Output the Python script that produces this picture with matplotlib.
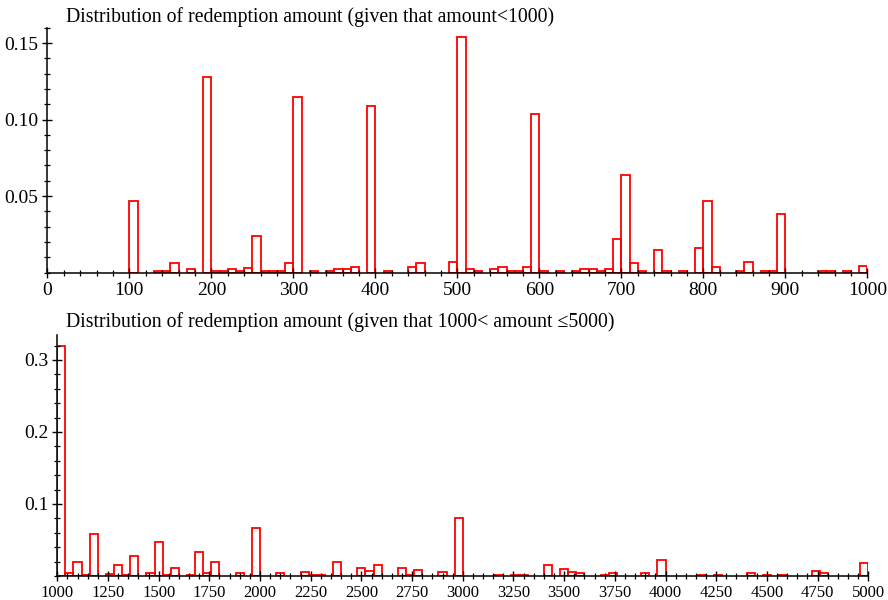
import numpy as np
import matplotlib
matplotlib.use("Agg")
import matplotlib.pyplot as plt
from matplotlib.ticker import MultipleLocator, FixedLocator

plt.rcParams['font.family'] = ['Liberation Serif', 'DejaVu Serif']

# amounts < 1000, bins of width 10 (bin start, relative frequency)
small_start = [100, 130, 140, 150, 170, 190, 200, 210, 220, 230, 240, 250, 260, 270,
               280, 290, 300, 320, 340, 350, 360, 370, 390, 410, 440, 450, 490, 500,
               510, 520, 540, 550, 560, 570, 580, 590, 600, 620, 640, 650, 660, 670,
               680, 690, 700, 710, 720, 740, 750, 770, 790, 800, 810, 840, 850, 870,
               880, 890, 940, 950, 970, 990]
small_freq = [0.047, 0.0012, 0.0012, 0.006, 0.0025, 0.128, 0.0012, 0.0012, 0.0026,
              0.0012, 0.0028, 0.024, 0.0012, 0.0012, 0.0012, 0.006, 0.115, 0.0012,
              0.0012, 0.0026, 0.0026, 0.0035, 0.109, 0.0012, 0.0033, 0.006, 0.007,
              0.154, 0.0026, 0.0012, 0.0022, 0.0035, 0.0012, 0.0012, 0.0035, 0.1035,
              0.0012, 0.0012, 0.0008, 0.0026, 0.0026, 0.0012, 0.0026, 0.022, 0.064,
              0.0063, 0.0012, 0.0144, 0.0012, 0.0012, 0.0163, 0.047, 0.0033, 0.0012,
              0.0072, 0.0012, 0.0012, 0.038, 0.0012, 0.0012, 0.0012, 0.0044]

# 1000 < amount <= 5000, bins of width 40
big_start = [1000, 1040, 1080, 1120, 1160, 1240, 1280, 1320, 1360, 1440, 1480, 1520,
             1560, 1640, 1680, 1720, 1760, 1880, 1960, 2080, 2200, 2240, 2280, 2360,
             2480, 2520, 2560, 2680, 2720, 2760, 2880, 2960, 3160, 3240, 3280, 3400,
             3480, 3520, 3560, 3680, 3720, 3880, 3960, 4160, 4240, 4400, 4480, 4560,
             4720, 4760, 4960]
big_freq = [0.32, 0.004, 0.019, 0.002, 0.058, 0.003, 0.0153, 0.0015, 0.028, 0.004,
            0.047, 0.0015, 0.0107, 0.002, 0.034, 0.004, 0.019, 0.004, 0.066, 0.004,
            0.006, 0.002, 0.002, 0.019, 0.0116, 0.0074, 0.0153, 0.0116, 0.002, 0.009,
            0.005, 0.080, 0.002, 0.002, 0.002, 0.0153, 0.0093, 0.005, 0.004, 0.002,
            0.004, 0.004, 0.022, 0.002, 0.002, 0.004, 0.002, 0.002, 0.0074, 0.0046,
            0.0176]

fig = plt.figure(figsize=(8.88, 6), dpi=100)
ax1 = fig.add_axes([0.0533, 0.5458, 0.9234, 0.408])
ax2 = fig.add_axes([0.0645, 0.040, 0.9133, 0.402])


def style(ax):
    for s in ['top', 'right']:
        ax.spines[s].set_visible(False)
    for s in ['left', 'bottom']:
        ax.spines[s].set_linewidth(1.1)
    ax.tick_params(which='major', direction='inout', length=7, width=1.0,
                   labelsize=14, pad=3)
    ax.tick_params(which='minor', direction='inout', length=4, width=0.9)
    ax.patch.set_visible(False)


ax1.bar(small_start, small_freq, width=10, align='edge', fill=False,
        edgecolor='red', linewidth=1.3)
ax1.set_xlim(0, 1000)
ax1.set_ylim(0, 0.16)
ax1.xaxis.set_major_locator(MultipleLocator(100))
ax1.xaxis.set_minor_locator(MultipleLocator(20))
ax1.yaxis.set_major_locator(FixedLocator([0.05, 0.10, 0.15]))
ax1.yaxis.set_minor_locator(MultipleLocator(0.01))
ax1.set_yticklabels(['0.05', '0.10', '0.15'])
style(ax1)

ax2.bar(big_start, big_freq, width=40, align='edge', fill=False,
        edgecolor='red', linewidth=1.3)
ax2.set_xlim(1000, 5000)
ax2.set_ylim(0, 0.335)
ax2.xaxis.set_major_locator(MultipleLocator(250))
ax2.xaxis.set_minor_locator(MultipleLocator(50))
ax2.yaxis.set_major_locator(FixedLocator([0.1, 0.2, 0.3]))
ax2.yaxis.set_minor_locator(MultipleLocator(0.02))
ax2.set_yticklabels(['0.1', '0.2', '0.3'])
style(ax2)
ax2.tick_params(axis='x', which='major', labelsize=12)

fig.text(66 / 888, 1 - 17 / 600,
         "Distribution of redemption amount (given that amount<1000)",
         fontsize=14.2, va='center', ha='left')
fig.text(66 / 888, 1 - 322 / 600,
         "Distribution of redemption amount (given that 1000< amount \u22645000)",
         fontsize=14.2, va='center', ha='left')

fig.savefig("out.png", dpi=100)
